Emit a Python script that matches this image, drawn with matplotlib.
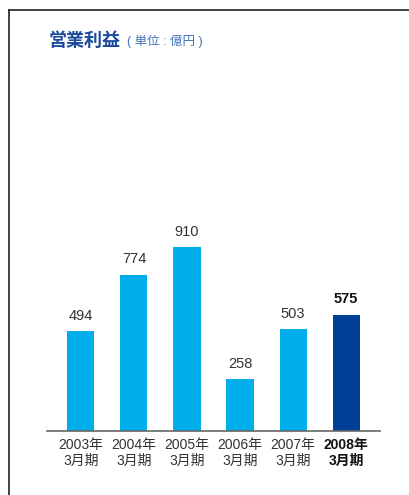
import numpy as np
import matplotlib
matplotlib.use("Agg")
import matplotlib.pyplot as plt
from matplotlib.lines import Line2D

plt.rcParams['font.family'] = ['Liberation Sans', 'Noto Sans CJK JP']

years = ['2003年', '2004年', '2005年', '2006年', '2007年', '2008年']
period = '3月期'
profit = [494, 774, 910, 258, 503, 575]

light = '#00AEEB'
dark = '#003F98'
W, H = 409, 495

fig = plt.figure(figsize=(W / 100, H / 100), dpi=100)

# frame: top and left edge
fig.add_artist(Line2D([9 / W, 9 / W], [0, 1 - 10 / H], color='#222222', lw=1.2))
fig.add_artist(Line2D([9 / W, 1], [1 - 10 / H, 1 - 10 / H], color='#222222', lw=1.2))

fig.text(49 / W, 1 - 40 / H, '営業利益', color='#1a4a9c', fontsize=13,
         fontweight='bold', va='center', ha='left',
         family=['Noto Sans CJK JP'])
fig.text(127 / W, 1 - 41 / H, '( 単位 : 億円 )', color='#3f70b8', fontsize=9,
         va='center', ha='left')

ax = fig.add_axes([47 / W, (H - 431) / H, 333 / W, 371 / H])
x = np.arange(len(profit))
colors = [light] * (len(profit) - 1) + [dark]
ax.bar(x, profit, width=0.51, color=colors)
ax.set_xlim(-0.64, 5.64)
ax.set_ylim(0, 1835)

for i, v in enumerate(profit):
    last = i == len(profit) - 1
    ax.annotate(str(v), (i, v), xytext=(0, 6), textcoords='offset points',
                ha='center', va='bottom', fontsize=10.5,
                fontweight='bold' if last else 'normal',
                color='#111111' if last else '#333333')

ax.set_xticks(x)
ax.set_xticklabels([f'{y}\n{period}' for y in years], fontsize=10,
                   color='#333333', linespacing=1.15)
ax.get_xticklabels()[-1].set_fontweight('bold')
ax.get_xticklabels()[-1].set_color('#111111')
ax.tick_params(axis='x', length=0, pad=5)
ax.set_yticks([])
for s in ['top', 'right', 'left']:
    ax.spines[s].set_visible(False)
ax.spines['bottom'].set_color('#666666')
ax.spines['bottom'].set_linewidth(1.2)

fig.savefig('out.png', dpi=100)
